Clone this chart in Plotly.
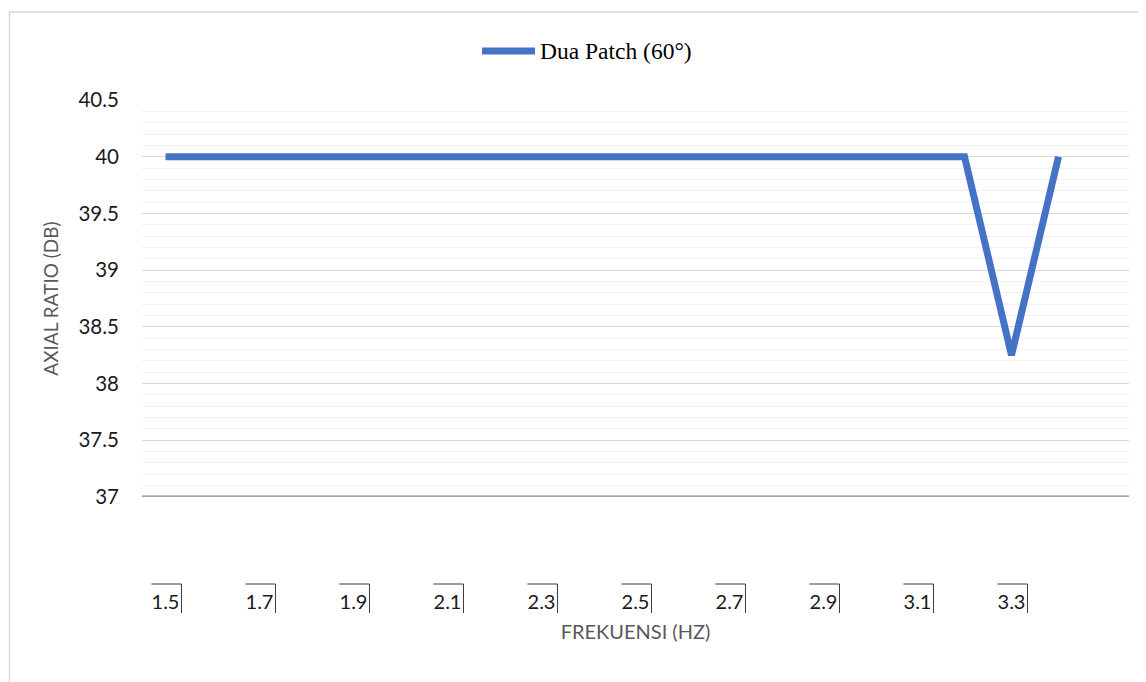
import plotly.graph_objects as go

freq = [1.5, 1.6, 1.7, 1.8, 1.9, 2.0, 2.1, 2.2, 2.3, 2.4, 2.5, 2.6, 2.7, 2.8, 2.9, 3.0, 3.1, 3.2, 3.3, 3.4]
axial_ratio = [40, 40, 40, 40, 40, 40, 40, 40, 40, 40, 40, 40, 40, 40, 40, 40, 40, 40, 38.25, 40]
series_name = "Dua Patch (60°)"
x_tick_vals = [1.5, 1.7, 1.9, 2.1, 2.3, 2.5, 2.7, 2.9, 3.1, 3.3]
x_tick_text = ["1.5", "1.7", "1.9", "2.1", "2.3", "2.5", "2.7", "2.9", "3.1", "3.3"]
y_tick_vals = [37, 37.5, 38, 38.5, 39, 39.5, 40, 40.5]
y_tick_text = ["37", "37.5", "38", "38.5", "39", "39.5", "40", "40.5"]

OFF = 8  # default page body margin
W, H = 1146 - OFF, 682 - OFF
plot_left, plot_right = 142 - OFF, 1129 - OFF
plot_top, plot_bottom = 100 - OFF, 497 - OFF
paper_bottom = 584 - OFF
paper_h = paper_bottom - plot_top
pw = plot_right - plot_left
y_dom0 = (paper_bottom - plot_bottom) / paper_h

fig = go.Figure()
fig.add_trace(go.Scatter(
    x=freq, y=axial_ratio, mode="lines", name=series_name,
    line=dict(color="#4472C4", width=7),
    showlegend=False,
))

shapes = []
# axis line at the bottom of the value range (double line)
shapes.append(dict(type="line", xref="paper", yref="y", x0=0, x1=1, y0=37, y1=37,
                   line=dict(color="#8a8a8a", width=3)))
shapes.append(dict(type="line", xref="paper", yref="y", x0=0, x1=1, y0=37, y1=37,
                   line=dict(color="#d0d0d0", width=0.7)))
# label boxes (top + right border) under each tick label
box_h = 29 / paper_h
for v in x_tick_vals:
    shapes.append(dict(type="line", xref="x", yref="paper", x0=v - 0.030, x1=v + 0.034,
                       y0=0, y1=0, line=dict(color="#3a3a3a", width=1)))
    shapes.append(dict(type="line", xref="x", yref="paper", x0=v + 0.034, x1=v + 0.034,
                       y0=0, y1=-box_h, line=dict(color="#3a3a3a", width=1)))
# chart area border
bx0 = (1.5 - plot_left) / pw
by1 = 1 + (plot_top - (12 - OFF)) / paper_h
shapes.append(dict(type="path", xref="paper", yref="paper",
                   path=f"M {bx0} -0.3 L {bx0} {by1} L 1.2 {by1}",
                   line=dict(color="#d9d9d9", width=1.5)))
# legend swatch
ly = 1 + (plot_top - (51 - OFF)) / paper_h
shapes.append(dict(type="line", xref="paper", yref="paper",
                   x0=(482 - OFF - plot_left) / pw, x1=(535 - OFF - plot_left) / pw,
                   y0=ly, y1=ly, line=dict(color="#4472C4", width=7)))
annotations = [dict(text=series_name, xref="paper", yref="paper",
                    x=(538 - OFF - plot_left) / pw, y=ly, xanchor="left", yanchor="middle",
                    showarrow=False,
                    font=dict(family="Liberation Serif", size=23.5, color="#000000"))]

fig.update_layout(
    width=W, height=H,
    margin=dict(l=plot_left, r=W - plot_right, t=plot_top, b=H - paper_bottom),
    paper_bgcolor="white", plot_bgcolor="white",
    font=dict(family="Lato", color="#1a1a1a"),
    shapes=shapes, annotations=annotations,
    showlegend=False,
    xaxis=dict(
        range=[1.45, 3.55], anchor="free", position=0,
        tickmode="array", tickvals=x_tick_vals, ticktext=x_tick_text,
        showgrid=False, zeroline=False, showline=False, ticks="",
        tickfont=dict(family="Lato", size=20, color="#1a1a1a"),
        ticklabelstandoff=4,
        title=dict(text="FREKUENSI (HZ)", font=dict(family="Lato", size=20, color="#595959"),
                   standoff=12),
    ),
    yaxis=dict(
        domain=[y_dom0, 1], range=[37, 40.5],
        tickmode="array", tickvals=y_tick_vals, ticktext=y_tick_text,
        showgrid=True, gridcolor="#d9d9d9", gridwidth=1,
        minor=dict(dtick=0.1, showgrid=True, gridcolor="#f0f0f0", gridwidth=1),
        zeroline=False, showline=False, ticks="",
        tickfont=dict(family="Lato", size=20.5, color="#1a1a1a"),
        ticklabelstandoff=22,
        title=dict(text="AXIAL RATIO (DB)", font=dict(family="Lato", size=19, color="#595959"),
                   standoff=14),
    ),
)

fig.write_html("out.html")
